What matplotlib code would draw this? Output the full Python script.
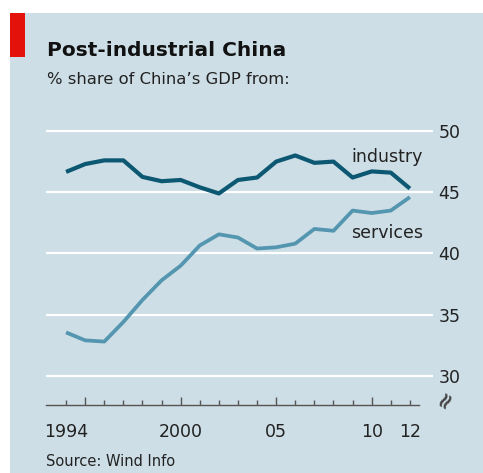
import matplotlib.pyplot as plt
from matplotlib.patches import Rectangle

years = list(range(1994, 2013))
industry = [46.66, 47.3, 47.6, 47.6, 46.25, 45.9, 46.0, 45.4, 44.9, 46.0, 46.2,
            47.5, 48.0, 47.4, 47.5, 46.2, 46.7, 46.6, 45.3]
services = [33.55, 32.9, 32.8, 34.4, 36.2, 37.8, 39.0, 40.65, 41.56, 41.3, 40.4,
            40.5, 40.8, 42.0, 41.85, 43.5, 43.3, 43.5, 44.6]
yticks = [30, 35, 40, 45, 50]
xtick_pos = [1994, 2000, 2005, 2010, 2012]
xtick_labels = ["1994", "2000", "05", "10", "12"]

bg = "#cddee6"
dark = "#0c5872"
light = "#5496b0"
txt = "#222222"

W, H = 483, 473
fig = plt.figure(figsize=(W / 100, H / 100), dpi=100)
fig.patch.set_facecolor("white")

# background panel and red tab
fig.patches.append(Rectangle((10 / W, 0), 1, 1 - 13 / H, transform=fig.transFigure,
                             facecolor=bg, edgecolor="none", zorder=0))
fig.patches.append(Rectangle((10 / W, 1 - 57 / H), 15 / W, 44 / H, transform=fig.transFigure,
                             facecolor="#e3120b", edgecolor="none", zorder=1))

ax = fig.add_axes([46 / W, 1 - 405 / H, 387 / W, 280 / H])
ax.set_zorder(5)
ax.set_facecolor("none")
ax.set_xlim(1992.95, 2013.21)
ax.set_ylim(27.62, 50.49)

for v in yticks:
    ax.axhline(v, color="white", lw=1.6, zorder=1)

ax.plot(years, industry, color=dark, lw=3.0, zorder=3, solid_capstyle="butt")
ax.plot(years, services, color=light, lw=2.7, zorder=3, solid_capstyle="butt")

for s in ["top", "right", "left"]:
    ax.spines[s].set_visible(False)
ax.spines["bottom"].set_bounds(1992.95, 2012.5)
ax.spines["bottom"].set_color("#555555")
ax.spines["bottom"].set_linewidth(1.0)

ax.yaxis.tick_right()
ax.set_yticks(yticks)
ax.set_yticklabels([str(v) for v in yticks])
ax.tick_params(axis="y", length=0, pad=4, labelsize=12.5, labelcolor=txt)

ax.set_xticks(years, minor=True)
ax.set_xticks([1995, 2000, 2005, 2010])
ax.set_xticklabels([])
ax.tick_params(axis="x", which="minor", direction="in", length=3.5, width=1, color="#555555")
ax.tick_params(axis="x", which="major", direction="in", length=6, width=1, color="#555555")
for p, lab in zip(xtick_pos, xtick_labels):
    ax.text(p, 27.62 - 2.2, lab, ha="center", va="center", fontsize=12.5, color=txt,
            clip_on=False)

ax.text(2010.8, 47.9, "industry", ha="center", va="center", fontsize=12.5, color=txt)
ax.text(2010.8, 41.7, "services", ha="center", va="center", fontsize=12.5, color=txt)

# axis break mark
fig.text(445 / W, 1 - 399 / H, "\u2248", rotation=60, ha="center", va="center",
         fontsize=16, fontweight="bold", color="#444444")

fig.text(47 / W, 1 - 50 / H, "Post-industrial China", fontsize=14.5, fontweight="bold",
         color="#111111", ha="left", va="center")
fig.text(47 / W, 1 - 80 / H, "% share of China\u2019s GDP from:", fontsize=11.8,
         color=txt, ha="left", va="center")
fig.text(46 / W, 1 - 461 / H, "Source: Wind Info", fontsize=10.5, color=txt,
         ha="left", va="center")

fig.savefig("out.png", dpi=100, facecolor=fig.get_facecolor())
